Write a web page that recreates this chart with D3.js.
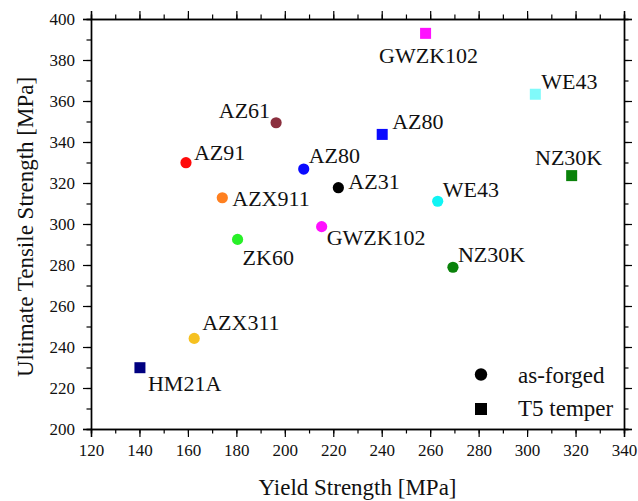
<!DOCTYPE html>
<html>
<head>
<meta charset="utf-8">
<script src="https://cdn.jsdelivr.net/npm/d3@7"></script>
<style>
  html, body { margin: 0; padding: 0; background: #fff; }
  svg { display: block; }
  text { font-family: "Liberation Serif", "Times New Roman", serif; fill: #111; }
</style>
</head>
<body>
<svg id="chart" width="638" height="501"></svg>
<script>
// ---- data ----
const forgedNames = ["AZ61", "AZ91", "AZ80", "AZX911", "ZK60", "GWZK102", "AZ31", "WE43", "NZ30K", "AZX311"];
const forgedYield = [196.4, 159.2, 207.8, 174.2, 180.5, 215.2, 222.1, 263.1, 269.4, 162.6];
const forgedUTS   = [349.4, 329.9, 326.8, 312.8, 292.5, 298.7, 317.7, 311.1, 278.9, 244.2];

const t5Names = ["GWZK102", "WE43", "AZ80", "NZ30K", "HM21A"];
const t5Yield = [258.1, 303.4, 240.2, 318.4, 140.2];
const t5UTS   = [393.0, 363.3, 343.7, 323.6, 229.9];

const xTicks = [120, 140, 160, 180, 200, 220, 240, 260, 280, 300, 320, 340];
const yTicks = [200, 220, 240, 260, 280, 300, 320, 340, 360, 380, 400];
const legendLabels = ["as-forged", "T5 temper"];

// ---- styles / layout (not data) ----
const forgedColors = ["#8b2f3e", "#ff0a0a", "#0a0aff", "#ff8020", "#28f028", "#ff10ff", "#000000", "#10f4f4", "#0a820a", "#f6c120"];
const t5Colors = ["#ff10ff", "#80fafa", "#0a0aff", "#0a820a", "#000080"];
// label placement: [anchor, dx, dy]
const forgedLabelPos = [
  ["end", -6, -5], ["start", 8, -3], ["start", 5, -6], ["start", 10, 8], ["start", 5, 26],
  ["start", 5, 18], ["start", 10, 1], ["start", 5, -4], ["start", 5, -5], ["start", 8, -8]
];
const t5LabelPos = [
  ["middle", 3, 30], ["start", 6, -5], ["start", 10, -5], ["middle", -3, -11], ["start", 8, 23]
];

const svg = d3.select("#chart");
const L = 91, R = 624, T = 19, B = 429;

const x = d3.scaleLinear().domain([120, 340]).range([L, R]);
const y = d3.scaleLinear().domain([200, 400]).range([B, T]);

const minorX = d3.range(120, 341, 10);
const minorY = d3.range(200, 401, 10);

function styleAxis(g) {
  g.select(".domain").attr("stroke", "#000").attr("stroke-width", 1.4);
  g.selectAll(".tick line").attr("stroke", "#000").attr("stroke-width", 1.2);
  g.selectAll(".tick text").style("font-size", "17px").attr("fill", "#222")
    .style("font-family", '"Liberation Serif", serif');
}

// minor ticks
svg.append("g").attr("transform", `translate(0,${B})`)
  .call(d3.axisBottom(x).tickValues(minorX).tickSize(4.5).tickFormat(""))
  .call(styleAxis);
svg.append("g").attr("transform", `translate(0,${T})`)
  .call(d3.axisTop(x).tickValues(minorX).tickSize(4.5).tickFormat(""))
  .call(styleAxis);
svg.append("g").attr("transform", `translate(${L},0)`)
  .call(d3.axisLeft(y).tickValues(minorY).tickSize(4.5).tickFormat(""))
  .call(styleAxis);
svg.append("g").attr("transform", `translate(${R},0)`)
  .call(d3.axisRight(y).tickValues(minorY).tickSize(4.5).tickFormat(""))
  .call(styleAxis);

// major ticks
svg.append("g").attr("transform", `translate(0,${B})`)
  .call(d3.axisBottom(x).tickValues(xTicks).tickSize(8).tickPadding(7).tickFormat(d3.format("d")))
  .call(styleAxis);
svg.append("g").attr("transform", `translate(0,${T})`)
  .call(d3.axisTop(x).tickValues(xTicks).tickSize(8).tickFormat(""))
  .call(styleAxis);
svg.append("g").attr("transform", `translate(${L},0)`)
  .call(d3.axisLeft(y).tickValues(yTicks).tickSize(8).tickPadding(8).tickFormat(d3.format("d")))
  .call(styleAxis);
svg.append("g").attr("transform", `translate(${R},0)`)
  .call(d3.axisRight(y).tickValues(yTicks).tickSize(8).tickFormat(""))
  .call(styleAxis);

// axis titles
svg.append("text")
  .attr("x", (L + R) / 2).attr("y", 495)
  .attr("text-anchor", "middle")
  .style("font-size", "23px")
  .text("Yield Strength [MPa]");
svg.append("text")
  .attr("transform", `translate(33,${(T + B) / 2 + 3}) rotate(-90)`)
  .attr("text-anchor", "middle")
  .style("font-size", "23px")
  .text("Ultimate Tensile Strength [MPa]");

// points
const forged = forgedNames.map((n, i) => ({ name: n, xs: forgedYield[i], ys: forgedUTS[i], c: forgedColors[i], lp: forgedLabelPos[i] }));
const t5 = t5Names.map((n, i) => ({ name: n, xs: t5Yield[i], ys: t5UTS[i], c: t5Colors[i], lp: t5LabelPos[i] }));

const s = 11;
svg.append("g").selectAll("rect").data(t5).join("rect")
  .attr("x", d => x(d.xs) - s / 2).attr("y", d => y(d.ys) - s / 2)
  .attr("width", s).attr("height", s).attr("fill", d => d.c);

svg.append("g").selectAll("circle").data(forged).join("circle")
  .attr("cx", d => x(d.xs)).attr("cy", d => y(d.ys)).attr("r", 5.6).attr("fill", d => d.c);

const labels = svg.append("g").style("font-size", "22px");
labels.selectAll("text.f").data(forged).join("text").attr("class", "f")
  .attr("x", d => x(d.xs) + d.lp[1]).attr("y", d => y(d.ys) + d.lp[2])
  .attr("text-anchor", d => d.lp[0]).text(d => d.name);
labels.selectAll("text.t").data(t5).join("text").attr("class", "t")
  .attr("x", d => x(d.xs) + d.lp[1]).attr("y", d => y(d.ys) + d.lp[2])
  .attr("text-anchor", d => d.lp[0]).text(d => d.name);

// legend
const lg = svg.append("g");
lg.append("circle").attr("cx", 481).attr("cy", 374.5).attr("r", 6.2).attr("fill", "#000");
lg.append("rect").attr("x", 475).attr("y", 403).attr("width", 12).attr("height", 12).attr("fill", "#000");
lg.selectAll("text").data(legendLabels).join("text")
  .attr("x", 518).attr("y", (d, i) => 382.5 + i * 33.5)
  .style("font-size", "23px").text(d => d);
</script>
</body>
</html>
